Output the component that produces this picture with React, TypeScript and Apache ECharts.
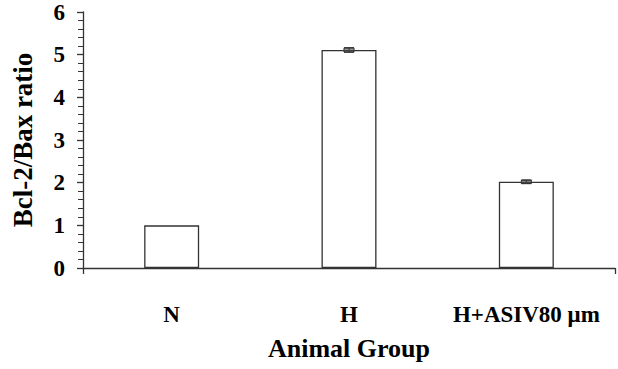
import React, { useEffect, useRef } from "react";
import * as echarts from "echarts";

const categories = ["N", "H", "H+ASIV80 μm"];
const values = [1.0, 5.11, 2.02];
const errors = [0, 0.05, 0.04];
const yTicks = [0, 1, 2, 3, 4, 5, 6];

const FONT = "'Liberation Serif', 'Times New Roman', serif";

export default function App() {
  const ref = useRef<HTMLDivElement>(null);
  useEffect(() => {
    if (!ref.current) return;
    const chart = echarts.init(ref.current, null, { renderer: "svg" });
    const errData = values.map((v, i) => [i, v - errors[i], v + errors[i]]);
    chart.setOption({
      animation: false,
      backgroundColor: "#fff",
      grid: { left: 83, right: 3, top: 12, bottom: 101, containLabel: false },
      xAxis: [
        {
          type: "category",
          data: categories,
          name: "Animal Group",
          nameLocation: "middle",
          nameGap: 67,
          nameTextStyle: { fontFamily: FONT, fontSize: 26, fontWeight: "bold", color: "#000" },
          axisLine: { lineStyle: { color: "#333", width: 1.3 } },
          axisTick: { alignWithLabel: true, length: 6, lineStyle: { color: "#333", width: 1.3 } },
          axisLabel: {
            interval: 0,
            hideOverlap: false,
            fontFamily: FONT,
            fontSize: 23,
            fontWeight: "bold",
            color: "#000",
            margin: 35,
          },
        },
        {
          type: "value",
          position: "bottom",
          min: 0,
          max: 3,
          interval: 3,
          axisLine: { show: false },
          axisTick: { show: true, inside: false, length: 6, lineStyle: { color: "#333", width: 1.3 } },
          axisLabel: { show: false },
          splitLine: { show: false },
        },
      ],
      yAxis: {
        type: "value",
        min: yTicks[0],
        max: yTicks[yTicks.length - 1],
        interval: 1,
        name: "Bcl-2/Bax ratio",
        nameLocation: "middle",
        nameGap: 47,
        nameTextStyle: { fontFamily: FONT, fontSize: 27, fontWeight: "bold", color: "#000" },
        axisLine: { show: true, lineStyle: { color: "#333", width: 1.3 } },
        axisTick: { show: true, length: 6, lineStyle: { color: "#333", width: 1.3 } },
        minorTick: { show: true, splitNumber: 5, length: 5, lineStyle: { color: "#333", width: 1 } },
        splitLine: { show: false },
        axisLabel: { fontFamily: FONT, fontSize: 23, fontWeight: "bold", color: "#000", margin: 18 },
      },
      series: [
        {
          type: "bar",
          xAxisIndex: 0,
          data: values,
          barWidth: "31%",
          itemStyle: { color: "#fff", borderColor: "#333", borderWidth: 1.3 },
        },
        {
          type: "custom",
          xAxisIndex: 0,
          data: errData,
          z: 10,
          renderItem: (params: any, api: any) => {
            const x = api.value(0);
            const lo = api.coord([x, api.value(1)]);
            const hi = api.coord([x, api.value(2)]);
            const hw = 5;
            const style = { stroke: "#333", lineWidth: 1.3 };
            if (Math.abs(hi[1] - lo[1]) < 0.5) return null;
            return {
              type: "group",
              children: [
                { type: "line", shape: { x1: lo[0], y1: lo[1], x2: hi[0], y2: hi[1] }, style },
                { type: "line", shape: { x1: lo[0] - hw, y1: lo[1], x2: lo[0] + hw, y2: lo[1] }, style },
                { type: "line", shape: { x1: hi[0] - hw, y1: hi[1], x2: hi[0] + hw, y2: hi[1] }, style },
                {
                  type: "rect",
                  shape: { x: hi[0] - hw, y: hi[1], width: hw * 2, height: lo[1] - hi[1] },
                  style: { fill: "rgba(80,80,80,0.6)", stroke: "#333", lineWidth: 1 },
                },
              ],
            };
          },
        },
      ],
    });
    return () => chart.dispose();
  }, []);
  return <div ref={ref} style={{ width: 618, height: 369, position: "absolute", left: 0, top: 0 }} />;
}
